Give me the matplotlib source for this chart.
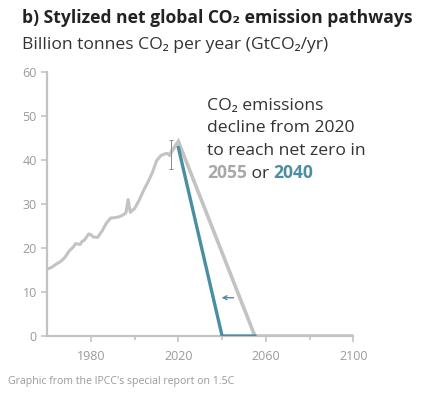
import numpy as np
import matplotlib.pyplot as plt

plt.rcParams['font.family'] = ['Open Sans', 'DejaVu Sans']

# historical net emissions (GtCO2/yr)
hist_years = [1960, 1962, 1964, 1966, 1968, 1970, 1972, 1973, 1975, 1976, 1977, 1979,
              1980, 1981, 1983, 1985, 1987, 1989, 1991, 1993, 1995, 1996, 1997, 1998,
              2000, 2002, 2004, 2006, 2008, 2010, 2012, 2014, 2015, 2016, 2017]
hist_vals = [15.2, 15.6, 16.3, 16.9, 17.8, 19.3, 20.3, 21.0, 20.8, 21.5, 21.8, 23.2,
             23.0, 22.5, 22.4, 23.8, 25.6, 26.8, 26.9, 27.1, 27.6, 28.0, 31.0, 28.1,
             29.0, 30.8, 33.0, 34.9, 37.0, 39.8, 41.0, 41.4, 41.5, 41.0, 42.0]
# stylized pathways
slow_years = [2017, 2020, 2055, 2100]
slow_vals = [42.0, 44.2, 0, 0]
fast_years = [2020, 2040, 2055]
fast_vals = [42.8, 0, 0]
err_year, err_mid, err_lo, err_hi = 2016.7, 41.2, 38.0, 44.5

note_lines = ['CO₂ emissions', 'decline from 2020', 'to reach net zero in']

grey = '#c3c3c3'
teal = '#4b8ea3'
tick_col = '#9a9a9a'
dark = '#333333'

fig = plt.figure(figsize=(4.22, 3.93), dpi=100)
ax = fig.add_axes([0.112, 0.145, 0.725, 0.672])

ax.plot(hist_years, hist_vals, color=grey, lw=2.2, solid_joinstyle='round', zorder=3)
ax.plot(slow_years, slow_vals, color=grey, lw=2.6, solid_joinstyle='miter', zorder=3)
ax.plot(fast_years, fast_vals, color=teal, lw=2.4, zorder=4)
ax.errorbar([err_year], [err_mid], yerr=[[err_mid - err_lo], [err_hi - err_mid]],
            fmt='none', ecolor='#8a8a8a', elinewidth=0.7, capsize=1.5, capthick=0.7, zorder=5)
ax.annotate('', xy=(2038.5, 8.7), xytext=(2046.5, 8.7),
            arrowprops=dict(arrowstyle='->', color=teal, lw=1.0, mutation_scale=7))

ax.set_xlim(1960, 2100)
ax.set_ylim(0, 60)
ax.set_xticks([1980, 2020, 2060, 2100])
ax.set_xticks([2000, 2040, 2080], minor=True)
ax.set_yticks(range(0, 61, 10))
for side in ['top', 'right']:
    ax.spines[side].set_visible(False)
for side in ['left', 'bottom']:
    ax.spines[side].set_color(grey)
    ax.spines[side].set_linewidth(1.6)
ax.tick_params(colors=grey, labelcolor=tick_col, labelsize=9, length=4, width=1.2)
ax.tick_params(axis='x', which='minor', colors=grey, length=3, width=1.2)
ax.tick_params(axis='x', pad=6)

fig.text(0.052, 0.955, 'b) Stylized net global CO₂ emission pathways', fontsize=12.6,
         fontweight='bold', color='#222222', va='center')
fig.text(0.052, 0.886, 'Billion tonnes CO₂ per year (GtCO₂/yr)', fontsize=12.6,
         color=dark, va='center')

x0 = 2033.0
for line, yv in zip(note_lines, [52.3, 47.2, 42.1]):
    ax.text(x0, yv, line, fontsize=12.6, color=dark, va='center', ha='left')
t1 = ax.text(x0, 37.0, '2055', fontsize=12.6, color='#a8a8a8', fontweight='bold',
             va='center', ha='left')
t2 = ax.annotate(' or ', xy=(1, 0), xycoords=t1, fontsize=12.6, color=dark,
                 va='bottom', ha='left')
ax.annotate('2040', xy=(1, 0), xycoords=t2, fontsize=12.6, color=teal,
            fontweight='bold', va='bottom', ha='left')

fig.text(0.018, 0.03, "Graphic from the IPCC's special report on 1.5C", fontsize=7.6,
         color='#999999', va='center')

fig.savefig('out.png', dpi=100)
